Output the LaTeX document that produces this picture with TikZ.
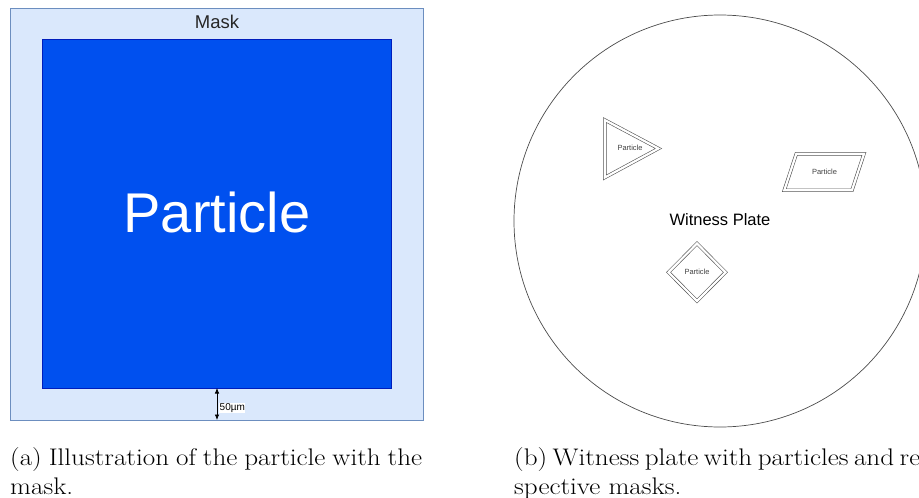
\documentclass[tikz,border=0pt]{standalone}
\usepackage{fontspec}
\usepackage{graphicx}
\newfontfamily\arial{Liberation Sans}
\definecolor{maskfill}{HTML}{DAE8FC}
\definecolor{maskline}{HTML}{6C8EBF}
\definecolor{partfill}{HTML}{0050EF}
\definecolor{partline}{HTML}{001DBC}
\definecolor{shapeline}{HTML}{555555}
\usetikzlibrary{arrows.meta}
\newcommand{\capwide}[1]{\scalebox{1.13}[1]{#1}}
\tikzset{
  dshape/.style={draw=shapeline, line width=0.6pt, double=white, double distance=2.2pt},
  smalllabel/.style={font=\arial\fontsize{7.5}{9}\selectfont, text=black!75, inner sep=0pt},
  caption/.style={font=\fontsize{24}{29}\selectfont, anchor=base west, inner sep=0pt},
}
\begin{document}
\begin{tikzpicture}[x=1pt,y=-1pt]
\useasboundingbox (0,0) rectangle (919,498);
\begin{scope}
\clip (0,0) rectangle (919,498);
% ---- panel (a)
\node[draw=maskline, fill=maskfill, line width=0.7pt, minimum width=413pt, minimum height=412pt, inner sep=0pt, anchor=north west] (mask) at (10,8) {};
\node[font=\arial\fontsize{18.5}{22}\selectfont, text=black!85, inner sep=0pt] (masklabel) at (217,22) {Mask};
\node[draw=partline, fill=partfill, line width=0.7pt, minimum width=349pt, minimum height=349pt, inner sep=0pt, anchor=north west] (particle) at (42,39) {};
\node[font=\arial\fontsize{56}{60}\selectfont, text=white, inner sep=0pt] (partlabel) at (217,212) {Particle};
\coordinate (gapbot) at (217,420);
\coordinate (gaptop) at (217,388);
\draw[{Latex[length=5.5pt,width=4.5pt]}-{Latex[length=5.5pt,width=4.5pt]}, line width=0.7pt] (gaptop) -- (gapbot);
\node[fill=white, font=\arial\fontsize{10}{12}\selectfont, inner sep=0.5pt, anchor=west] (dim) at (219,408) {50µm};
% ---- panel (b)
\node[draw=black!70, line width=0.7pt, circle, minimum size=412pt, inner sep=0pt] (plate) at (720,221) {};
\node[font=\arial\fontsize{16.5}{20}\selectfont, inner sep=0pt] (platelabel) at (720,220) {Witness Plate};
\draw[dshape] (604.8,120) -- (604.8,177.5) -- (658.5,148.5) -- cycle;
\node[smalllabel] (p1) at (630,148) {Particle};
\draw[dshape] (796.3,153.8) -- (864,153.8) -- (852,190.2) -- (784.3,190.2) -- cycle;
\node[smalllabel] (p2) at (824.5,172) {Particle};
\draw[dshape] (697,243.5) -- (725.5,272.3) -- (697,301) -- (668.5,272.3) -- cycle;
\node[smalllabel] (p3) at (697,272) {Particle};
% ---- captions
\node[caption] (capa1) at (10,465) {\capwide{\makebox[364.6pt][s]{(a) Illustration of the particle with the}}};
\node[caption] (capa2) at (10,494) {\capwide{mask.}};
\node[caption] (capb1) at (514,465) {\capwide{\makebox[364.6pt][s]{(b) Witness plate with particles and re-}}};
\node[caption] (capb2) at (514,494) {\capwide{spective masks.}};
\end{scope}
\end{tikzpicture}
\end{document}
